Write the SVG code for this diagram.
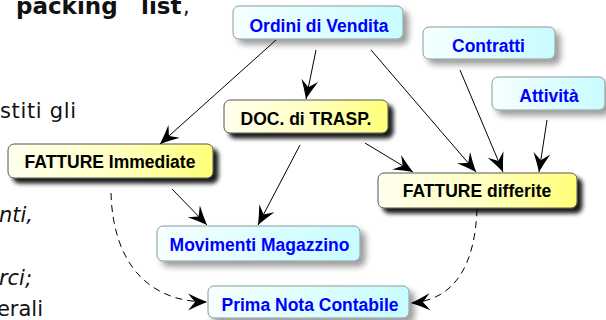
<svg xmlns="http://www.w3.org/2000/svg" width="606" height="320" viewBox="0 0 606 320">
  <style>
    .body { font-family: "DejaVu Sans", Verdana, sans-serif; font-size: 21px; fill: #111; }
    .bold { font-weight: bold; font-size: 23px; }
    .it { font-style: italic; }
    .lbl { font-family: "Liberation Sans", Arial, sans-serif; font-weight: bold; font-size: 17.5px; text-anchor: middle; }
    .blue rect { fill: url(#gBlue); stroke: #8a9a9a; stroke-width: 1; filter: url(#shLight); }
    .blue text { fill: #0000ff; }
    .yellow rect { fill: url(#gYellow); stroke: #555; stroke-width: 1; filter: url(#shDark); }
    .yellow text { fill: #000; }
    .conn path { fill: none; stroke: #000; stroke-width: 1; marker-end: url(#arr); }
    .conn path.dash { stroke-dasharray: 7 5; }
  </style>
  <defs>
    <linearGradient id="gYellow" x1="0" y1="0" x2="1" y2="0">
      <stop offset="0" stop-color="#ffffee"/>
      <stop offset="0.5" stop-color="#ffffc4"/>
      <stop offset="1" stop-color="#ffff78"/>
    </linearGradient>
    <linearGradient id="gBlue" x1="0" y1="0" x2="1" y2="0">
      <stop offset="0" stop-color="#f6ffff"/>
      <stop offset="1" stop-color="#c8fcff"/>
    </linearGradient>
    <filter id="shDark" x="-10%" y="-30%" width="125%" height="180%">
      <feGaussianBlur in="SourceAlpha" stdDeviation="2"/>
      <feOffset dx="5" dy="5" result="b"/>
      <feComponentTransfer><feFuncA type="linear" slope="0.9"/></feComponentTransfer>
      <feMerge><feMergeNode/><feMergeNode in="SourceGraphic"/></feMerge>
    </filter>
    <filter id="shLight" x="-10%" y="-30%" width="125%" height="180%">
      <feGaussianBlur in="SourceAlpha" stdDeviation="3"/>
      <feOffset dx="5" dy="5" result="b"/>
      <feComponentTransfer><feFuncA type="linear" slope="0.4"/></feComponentTransfer>
      <feMerge><feMergeNode/><feMergeNode in="SourceGraphic"/></feMerge>
    </filter>
    <marker id="arr" markerUnits="userSpaceOnUse" viewBox="-21 -10 22 20" refX="0" refY="0" markerWidth="22" markerHeight="20" orient="auto">
      <path d="M0,0 Q-9,-3.5 -19,-8.5 L-12,0 L-19,8.5 Q-9,3.5 0,0 Z" fill="#000"/>
    </marker>
  </defs>

  <g id="bodytext">
    <text class="body bold" x="16" y="14">packing</text>
    <text class="body bold" x="141" y="14">list</text>
    <text class="body" x="183" y="14">,</text>
    <text class="body" x="0" y="118" textLength="76" lengthAdjust="spacing">stiti gli</text>
    <text class="body it" x="33" y="222" text-anchor="end">nti,</text>
    <text class="body it" x="32" y="285" text-anchor="end">rci;</text>
    <text class="body" x="43" y="316" text-anchor="end">erali</text>
  </g>

  <g id="n-ordini" class="blue">
    <rect x="233" y="6" width="170" height="33" rx="6"/>
    <text class="lbl" x="319" y="31.5">Ordini di Vendita</text>
  </g>
  <g id="n-contratti" class="blue">
    <rect x="423" y="27" width="132" height="32" rx="6"/>
    <text class="lbl" x="488.5" y="51.5">Contratti</text>
  </g>
  <g id="n-attivita" class="blue">
    <rect x="492" y="77" width="113" height="33" rx="6"/>
    <text class="lbl" x="549" y="101.5">Attività</text>
  </g>
  <g id="n-doc" class="yellow">
    <rect x="224" y="100" width="164" height="33" rx="6"/>
    <text class="lbl" x="306" y="125">DOC. di TRASP.</text>
  </g>
  <g id="n-fatt-imm" class="yellow">
    <rect x="8" y="144" width="205" height="34" rx="6"/>
    <text class="lbl" x="110" y="167.5">FATTURE Immediate</text>
  </g>
  <g id="n-fatt-diff" class="yellow">
    <rect x="378" y="173" width="199" height="35" rx="6"/>
    <text class="lbl" x="477" y="197">FATTURE differite</text>
  </g>
  <g id="n-movimenti" class="blue">
    <rect x="157" y="226" width="203" height="35" rx="6"/>
    <text class="lbl" x="259.5" y="251">Movimenti Magazzino</text>
  </g>
  <g id="n-primanota" class="blue">
    <rect x="208" y="286" width="201" height="32" rx="6"/>
    <text class="lbl" x="310" y="310.5">Prima Nota Contabile</text>
  </g>

  <g id="connectors" class="conn">
    <path d="M276,40 L160,144"/>
    <path d="M316,50 L306,99"/>
    <path d="M371,50 L476,172"/>
    <path d="M460,70 L503,172"/>
    <path d="M547,120 L539,172"/>
    <path d="M365,143 L413,172"/>
    <path d="M300,145 L258,225"/>
    <path d="M172,189 L207,225"/>
    <path class="dash" d="M111,193 C113,265 150,302 207,302"/>
    <path class="dash" d="M477,209 C475,265 455,300 411,303"/>
  </g>
</svg>
